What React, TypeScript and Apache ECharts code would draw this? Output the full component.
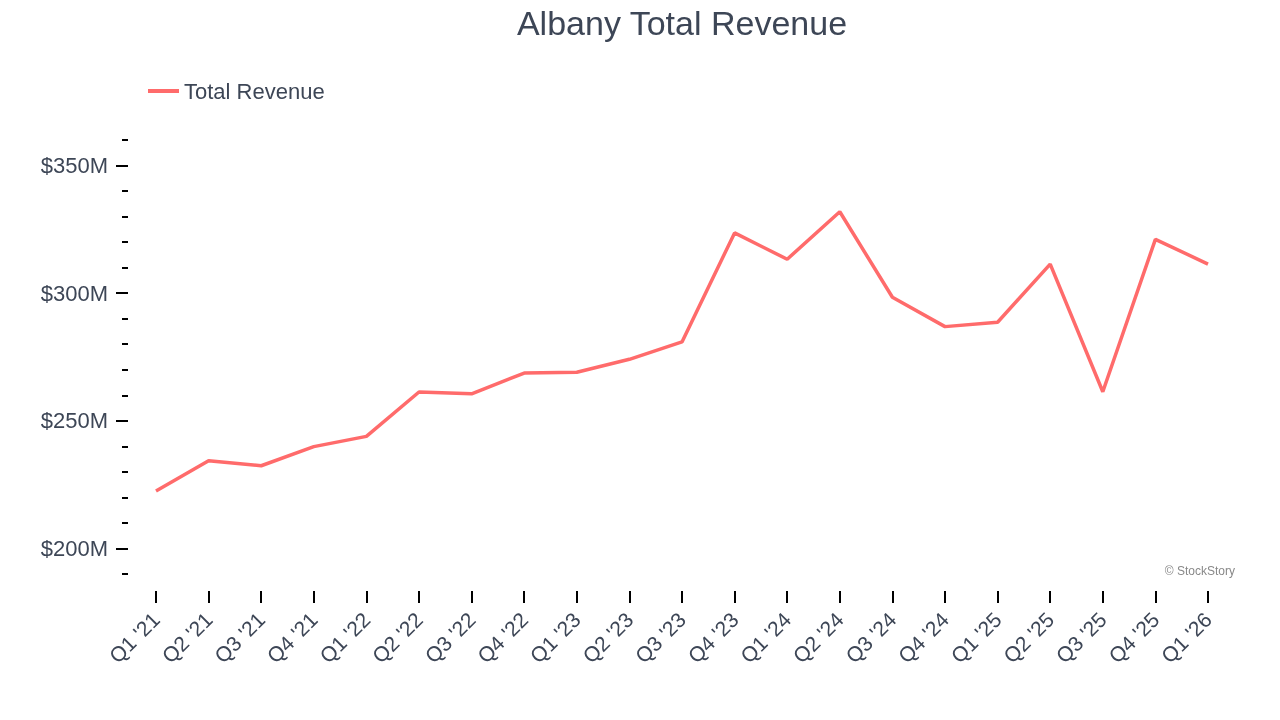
import { useEffect, useRef } from 'react'
import * as echarts from 'echarts'

// 数据
const quarters = [
  "Q1 '21", "Q2 '21", "Q3 '21", "Q4 '21",
  "Q1 '22", "Q2 '22", "Q3 '22", "Q4 '22",
  "Q1 '23", "Q2 '23", "Q3 '23", "Q4 '23",
  "Q1 '24", "Q2 '24", "Q3 '24", "Q4 '24",
  "Q1 '25", "Q2 '25", "Q3 '25", "Q4 '25",
  "Q1 '26"
]
const totalRevenue = [
  222.5, 234.4, 232.4, 239.9,
  243.9, 261.3, 260.6, 268.7,
  269.0, 274.1, 280.9, 323.6,
  313.3, 331.9, 298.4, 286.9,
  288.6, 311.4, 261.4, 321.1,
  311.4
]
const yMin = 190
const yMax = 360
const labelMin = 200
const labelMax = 350

const textColor = '#3d4656'
const font = 'Liberation Sans, Arial, Helvetica, sans-serif'

const App: React.FC = () => {
  const chartRef = useRef<HTMLDivElement | null>(null)

  useEffect(() => {
    if (chartRef.current === null) return
    const chart = echarts.init(chartRef.current, undefined, { renderer: 'svg' })
    // 像素换算：主网格 top 140，bottom 574
    const left = 156
    const right = 72
    const top = 140
    const bottom = 574
    const pxPerUnit = (bottom - top) / (yMax - yMin)
    const top2 = top + (yMax - labelMax) * pxPerUnit
    const bottom2 = bottom - (labelMin - yMin) * pxPerUnit

    chart.setOption({
      animation: false,
      textStyle: { fontFamily: font },
      legend: {
        left: 143,
        top: 75,
        itemWidth: 31,
        itemHeight: 4,
        itemGap: 7,
        icon: 'rect',
        textStyle: { fontFamily: font, fontSize: 22, color: textColor },
        data: ['Total Revenue']
      },
      grid: [
        { left: left, right: right, top: top, bottom: 720 - bottom },
        { left: left, right: right, top: top2, bottom: 720 - bottom2 }
      ],
      xAxis: [
        {
          type: 'category',
          gridIndex: 0,
          data: quarters,
          boundaryGap: false,
          offset: 17,
          axisLine: { show: false },
          axisTick: { show: true, length: 12, alignWithLabel: true, lineStyle: { color: '#000', width: 2 } },
          axisLabel: {
            rotate: 45,
            margin: 25,
            fontFamily: font,
            fontSize: 21,
            color: textColor,
            interval: 0
          },
          splitLine: { show: false }
        },
        {
          type: 'category',
          gridIndex: 1,
          data: quarters,
          boundaryGap: false,
          show: false
        }
      ],
      yAxis: [
        {
          type: 'value',
          gridIndex: 0,
          min: yMin,
          max: yMax,
          interval: 10,
          offset: 28,
          axisLine: { show: false },
          axisTick: { show: true, length: 6, lineStyle: { color: '#000', width: 2 } },
          axisLabel: { show: false },
          splitLine: { show: false }
        },
        {
          type: 'value',
          gridIndex: 1,
          min: labelMin,
          max: labelMax,
          interval: 50,
          offset: 28,
          axisLine: { show: false },
          axisTick: { show: true, length: 12, lineStyle: { color: '#000', width: 2 } },
          axisLabel: {
            margin: 20,
            fontFamily: font,
            fontSize: 22,
            color: textColor,
            formatter: (v: number) => `$${v}M`
          },
          splitLine: { show: false }
        }
      ],
      graphic: [
        {
          type: 'text',
          x: left + (1280 - left - right) / 2,
          y: 23,
          style: {
            text: 'Albany Total Revenue',
            fontFamily: font,
            fontSize: 34,
            fill: textColor,
            textAlign: 'center',
            textVerticalAlign: 'middle'
          }
        },
        {
          type: 'text',
          x: 1235,
          y: 571,
          style: {
            text: '© StockStory',
            fontFamily: font,
            fontSize: 12,
            fill: '#888',
            textAlign: 'right',
            textVerticalAlign: 'middle'
          }
        }
      ],
      series: [
        {
          name: 'Total Revenue',
          type: 'line',
          xAxisIndex: 0,
          yAxisIndex: 0,
          data: totalRevenue,
          symbol: 'none',
          lineStyle: { color: '#ff6b6b', width: 3.5 },
          itemStyle: { color: '#ff6b6b' }
        }
      ]
    })

    return () => {
      chart.dispose()
    }
  }, [])

  return (
    <div ref={chartRef} style={{ position: 'fixed', left: 0, top: 0, width: 1280, height: 720 }}></div>
  )
}

export default App
